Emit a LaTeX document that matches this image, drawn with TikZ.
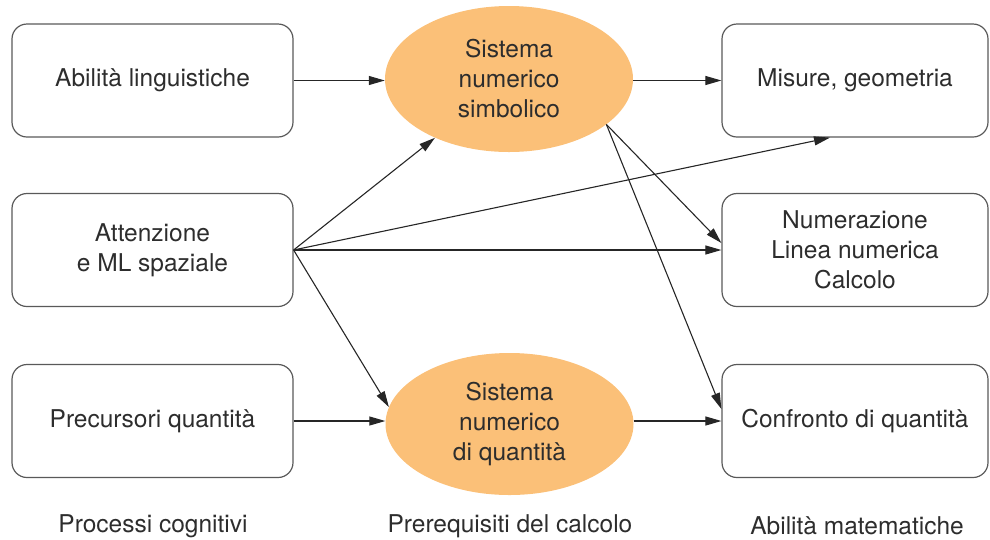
\documentclass[tikz,border=0pt]{standalone}
\usepackage{fontspec}
\setmainfont{TeX Gyre Heros}
\usetikzlibrary{shapes.geometric,arrows.meta}
\definecolor{sysorange}{RGB}{251,192,120}
\definecolor{inkgray}{RGB}{45,45,45}

\begin{document}
\begin{tikzpicture}[x=1pt, y=-1pt,
  every node/.style={font=\fontsize{24.5}{30}\selectfont, text=inkgray},
  box/.style={draw=black!65, line width=1.2pt, rectangle, rounded corners=15pt,
              minimum width=281pt, minimum height=113pt, align=center},
  rbox/.style={box, minimum width=266pt},
  sys/.style={ellipse, fill=sysorange, minimum width=248pt, minimum height=146pt,
              align=center, inner sep=0pt},
  legend/.style={anchor=center},
  ar/.style={-{Triangle[length=16pt,width=9pt]}, line width=1.1pt, draw=black!85}]

\useasboundingbox (0,0) rectangle (990,539);

%% ---- COLUMN 1: processi cognitivi ----
\node[box]  (LING) at (152.5, 80.5) {Abilità linguistiche};
\node[box]  (ATT)  at (152.5,250)   {Attenzione\\e ML spaziale};
\node[box]  (PREC) at (152.5,421)   {Precursori quantità};

%% ---- COLUMN 2: prerequisiti ----
\node[sys]  (SNS)  at (509, 79)  {Sistema\\numerico\\simbolico};
\node[sys, minimum height=142pt] (SNQ) at (509.5,424) {Sistema\\numerico\\di quantità};

%% ---- COLUMN 3: abilita' matematiche ----
\node[rbox] (MIS)  at (855, 80.5) {Misure, geometria};
\node[rbox] (NUM)  at (855,250)   {Numerazione\\Linea numerica\\Calcolo};
\node[rbox] (CONF) at (855,421)   {Confronto di quantità};

%% ---- captions ----
\node[legend] (CAPA) at (153,526) {Processi cognitivi};
\node[legend] (CAPB) at (510,526) {Prerequisiti del calcolo};
\node[legend] (CAPC) at (857,526) {Abilità matematiche};

%% --- Arrows ---
\draw[ar] (LING.east) -- (LING.east -| SNS.west);
\draw[ar] (SNS.east |- MIS.west) -- (MIS.west);
\draw[ar] (ATT.east)  -- (SNS);
\draw[ar] (ATT.east)  -- ([xshift=-25pt]MIS.south);
\draw[ar] (ATT.east)  -- (NUM.west);
\draw[ar] (ATT.east)  -- (SNQ.172);
\draw[ar] (PREC.east) -- (PREC.east -| SNQ.west);
\draw[ar] (SNQ.east |- CONF.west) -- (CONF.west);
\draw[ar] (SNS.-25)   -- ([yshift=7pt]NUM.west);
\draw[ar] (SNS.-25)   -- ([yshift=12pt]CONF.west);
\end{tikzpicture}
\end{document}
